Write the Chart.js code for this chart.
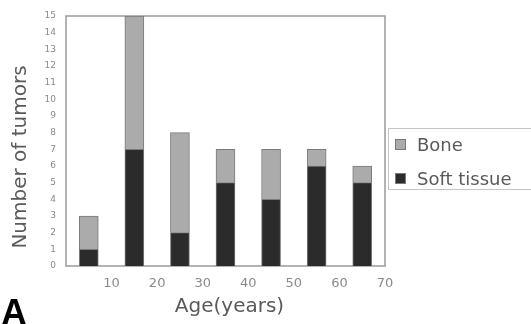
<!DOCTYPE html>
<html>
<head>
<meta charset="utf-8">
<script src="https://cdn.jsdelivr.net/npm/chart.js@4.4.1/dist/chart.umd.min.js"></script>
<style>
  html, body { margin: 0; padding: 0; background: #fff; }
  #wrap { position: relative; width: 531px; height: 324px; overflow: hidden; }
  #panel {
    position: absolute; left: 1px; top: 292px; line-height: 36px;
    font: bold 36px "Liberation Sans", Arial, sans-serif; color: #000;
  }
</style>
</head>
<body>
<div id="wrap">
  <canvas id="tumorChart" width="531" height="324"></canvas>
  <div id="panel">A</div>
</div>
<script>
// age groups (centre of each 10-year band)
const ageGroups = [5, 15, 25, 35, 45, 55, 65];
const softTissue = [1, 7, 2, 5, 4, 6, 5];
const bone = [2, 8, 6, 2, 3, 1, 1];
const seriesNames = ['Bone', 'Soft tissue'];

const colores = {
  bone: '#ababab',
  soft: '#2b2b2b',
  borde: '#7a7a7a',
  marco: '#9a9a9a',
  texto: '#5a5a5a',
  ticks: '#8a8a8a'
};

// marco del area, titulos de ejes y leyenda dibujados a mano
const extras = {
  id: 'extras',
  beforeDatasetsDraw(chart) {
    const { ctx, chartArea: a } = chart;
    ctx.save();
    ctx.strokeStyle = colores.marco;
    ctx.lineWidth = 1.5;
    ctx.strokeRect(a.left, a.top, a.right - a.left, a.bottom - a.top);
    ctx.restore();
  },
  afterDraw(chart) {
    const { ctx, chartArea: a } = chart;
    ctx.save();
    ctx.fillStyle = colores.texto;
    ctx.font = '20px "DejaVu Sans", sans-serif';
    ctx.textAlign = 'center';
    ctx.textBaseline = 'middle';
    // titulo eje x
    ctx.fillText('Age(years)', (a.left + a.right) / 2 + 4, 307);
    // titulo eje y
    ctx.save();
    ctx.translate(21, 157);
    ctx.rotate(-Math.PI / 2);
    ctx.fillText('Number of tumors', 0, 0);
    ctx.restore();

    // leyenda
    const lx = a.right + 3, ly = 128, lw = 150, lh = 61;
    ctx.strokeStyle = '#c4c4c4';
    ctx.lineWidth = 1;
    ctx.strokeRect(lx + 0.5, ly + 0.5, lw, lh);
    ctx.font = '18px "DejaVu Sans", sans-serif';
    ctx.textAlign = 'left';
    const items = [
      { label: chart.data.datasets[1].label, color: chart.data.datasets[1].backgroundColor, y: 145 },
      { label: chart.data.datasets[0].label, color: chart.data.datasets[0].backgroundColor, y: 179 }
    ];
    items.forEach(it => {
      ctx.fillStyle = it.color;
      ctx.fillRect(lx + 7, it.y - 6, 11, 11);
      ctx.strokeStyle = colores.borde;
      ctx.strokeRect(lx + 7.5, it.y - 5.5, 10, 10);
      ctx.fillStyle = colores.texto;
      ctx.fillText(it.label, lx + 29, it.y + 1);
    });
    ctx.restore();
  }
};

const ctx = document.getElementById('tumorChart').getContext('2d');
new Chart(ctx, {
  type: 'bar',
  data: {
    datasets: [
      {
        label: seriesNames[1],
        data: ageGroups.map((x, i) => ({ x: x, y: softTissue[i] })),
        backgroundColor: colores.soft,
        borderColor: colores.borde,
        borderWidth: 1,
        barThickness: 19
      },
      {
        label: seriesNames[0],
        data: ageGroups.map((x, i) => ({ x: x, y: bone[i] })),
        backgroundColor: colores.bone,
        borderColor: colores.borde,
        borderWidth: 1,
        barThickness: 19
      }
    ]
  },
  options: {
    responsive: false,
    animation: false,
    layout: { padding: { top: 16, right: 146, left: 0, bottom: 0 } },
    plugins: {
      legend: { display: false },
      tooltip: { enabled: false }
    },
    scales: {
      x: {
        type: 'linear',
        stacked: true,
        offset: false,
        min: 0,
        max: 70,
        grid: { display: false, drawTicks: false },
        border: { display: false },
        ticks: {
          stepSize: 10,
          padding: 10,
          color: colores.ticks,
          font: { family: '"DejaVu Sans", sans-serif', size: 13 },
          callback: v => (v === 0 ? '' : v)
        },
        afterFit: s => { s.height = 58; }
      },
      y: {
        stacked: true,
        min: 0,
        max: 15,
        grid: { display: false, drawTicks: false },
        border: { display: false },
        ticks: {
          stepSize: 1,
          padding: 10,
          color: colores.ticks,
          font: { family: '"DejaVu Sans", sans-serif', size: 9 }
        },
        afterFit: s => { s.width = 66; }
      }
    }
  },
  plugins: [extras]
});
</script>
</body>
</html>
